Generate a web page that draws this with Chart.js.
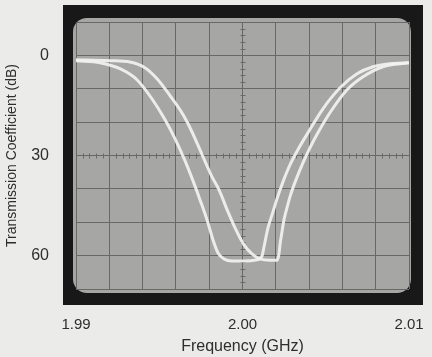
<!DOCTYPE html>
<html lang="en">
<head>
<meta charset="UTF-8">
<title>Transmission Coefficient</title>
<script src="https://cdn.jsdelivr.net/npm/chart.js"></script>
<style>
  body { margin: 0; background: #ebebe9; }
  #wrap { width: 432px; height: 357px; position: relative; }
</style>
</head>
<body>
<div id="wrap"><canvas id="scope"></canvas></div>
<script>
// trace A: steeper skirt on the left, flat floor, inner rise on the right
const freqA = [1.99000, 1.99144, 1.99264, 1.99366, 1.99456, 1.99535, 1.99601, 1.99655, 1.99703, 1.99745,
  1.99787, 1.99823, 1.99853, 1.99889, 1.99937, 2.00015, 2.00081, 2.00117, 2.00129, 2.00153,
  2.00183, 2.00207, 2.00243, 2.00285, 2.00339, 2.00393, 2.00483, 2.00586, 2.00688, 2.00784,
  2.00886, 2.01000];
const dbA = [1.6, 2.2, 4.0, 7.3, 13.0, 19.3, 25.6, 31.6, 37.6, 43.3,
  49.3, 55.3, 59.2, 61.0, 61.6, 61.6, 61.3, 60.1, 57.4, 51.7,
  46.9, 43.0, 37.9, 32.8, 27.7, 23.2, 16.0, 9.7, 5.5, 3.4,
  2.5, 2.2];

// trace B: later skirt, rounded floor, outer rise on the right
const freqB = [1.99000, 1.99204, 1.99324, 1.99414, 1.99492, 1.99565, 1.99625, 1.99673, 1.99721, 1.99763,
  1.99817, 1.99859, 1.99913, 1.99961, 2.00009, 2.00057, 2.00105, 2.00165, 2.00207, 2.00219,
  2.00225, 2.00237, 2.00249, 2.00267, 2.00285, 2.00321, 2.00363, 2.00405, 2.00453, 2.00525,
  2.00628, 2.00724, 2.00844, 2.01000];
const dbB = [1.3, 1.6, 2.0, 3.7, 7.3, 12.1, 16.3, 20.5, 25.6, 30.4,
  36.4, 40.3, 46.9, 52.3, 56.8, 59.5, 61.0, 61.4, 61.4, 59.5,
  56.8, 52.9, 49.3, 45.7, 42.4, 37.3, 32.2, 27.7, 23.2, 17.2,
  10.3, 6.4, 3.4, 2.2];

const yLabels = [0, 30, 60];
const xLabels = [1.99, 2.00, 2.01];

const toPoints = (xs, ys) => xs.map((x, i) => ({ x: x, y: ys[i] }));

// bezel + rounded screen behind the graticule
const scopeFrame = {
  id: 'scopeFrame',
  beforeDraw(chart) {
    const c = chart.ctx;
    const a = chart.chartArea;
    c.save();
    c.fillStyle = '#ebebe9';
    c.fillRect(0, 0, chart.width, chart.height);
    c.fillStyle = '#181818';
    c.fillRect(a.left - 13, a.top - 17, a.right - a.left + 27, a.bottom - a.top + 33);
    c.fillStyle = '#a6a6a4';
    c.beginPath();
    c.roundRect(a.left - 3, a.top - 4, a.right - a.left + 5, a.bottom - a.top + 8, 14);
    c.fill();
    c.restore();
  },
  // small subdivision marks on the centre cross of the graticule
  beforeDatasetsDraw(chart) {
    const c = chart.ctx;
    const a = chart.chartArea;
    const cx = (a.left + a.right) / 2;
    const cy = chart.scales.y.getPixelForValue(30);
    const dx = (a.right - a.left) / 50;
    const dy = (a.bottom - a.top) / 40;
    c.save();
    c.strokeStyle = '#6a6a68';
    c.lineWidth = 1;
    c.beginPath();
    for (let i = 1; i < 50; i++) {
      if (i % 5 === 0) continue;
      const x = Math.round(a.left + i * dx) + 0.5;
      c.moveTo(x, cy - 2); c.lineTo(x, cy + 3);
    }
    for (let j = 1; j < 40; j++) {
      if (j % 5 === 0) continue;
      const y = Math.round(a.top + j * dy) + 0.5;
      c.moveTo(cx - 2, y); c.lineTo(cx + 3, y);
    }
    c.stroke();
    c.restore();
  }
};

new Chart(document.getElementById('scope'), {
  type: 'line',
  data: {
    datasets: [
      { data: toPoints(freqA, dbA), borderColor: 'rgba(242,242,240,0.92)', borderWidth: 3,
        pointRadius: 0, cubicInterpolationMode: 'monotone' },
      { data: toPoints(freqB, dbB), borderColor: 'rgba(242,242,240,0.92)', borderWidth: 3,
        pointRadius: 0, cubicInterpolationMode: 'monotone' }
    ]
  },
  options: {
    responsive: true,
    maintainAspectRatio: false,
    animation: false,
    layout: { padding: { top: 22, right: 23, left: 0, bottom: 0 } },
    plugins: { legend: { display: false }, tooltip: { enabled: false } },
    scales: {
      x: {
        type: 'linear',
        min: 1.99,
        max: 2.01,
        afterFit(s) { s.height = 68; s.paddingLeft = 0; s.paddingRight = 0; },
        border: { display: false },
        grid: { color: '#686866', lineWidth: 1, drawTicks: false },
        ticks: {
          stepSize: 0.002,
          padding: 27,
          maxRotation: 0,
          autoSkip: false,
          color: '#2e2e2e',
          font: { family: 'Liberation Sans', size: 15 },
          callback: (v) => {
            const hit = xLabels.find(t => Math.abs(t - v) < 1e-6);
            return hit === undefined ? '' : hit.toFixed(2);
          }
        },
        title: {
          display: true,
          text: 'Frequency (GHz)',
          color: '#2e2e2e',
          font: { family: 'Liberation Sans', size: 16 },
          padding: { top: 0, bottom: 1 }
        }
      },
      y: {
        min: -10,
        max: 70,
        reverse: true,
        afterFit(s) { s.width = 76; s.paddingTop = 0; s.paddingBottom = 0; },
        border: { display: false },
        grid: { color: '#686866', lineWidth: 1, drawTicks: false },
        ticks: {
          stepSize: 10,
          padding: 27,
          autoSkip: false,
          color: '#2e2e2e',
          font: { family: 'Liberation Sans', size: 16 },
          callback: (v) => yLabels.includes(v) ? String(v) : ''
        },
        title: {
          display: true,
          text: 'Transmission Coefficient (dB)',
          color: '#2e2e2e',
          font: { family: 'Liberation Sans', size: 14 },
          padding: { top: 4, bottom: 4 }
        }
      }
    }
  },
  plugins: [scopeFrame]
});
</script>
</body>
</html>
